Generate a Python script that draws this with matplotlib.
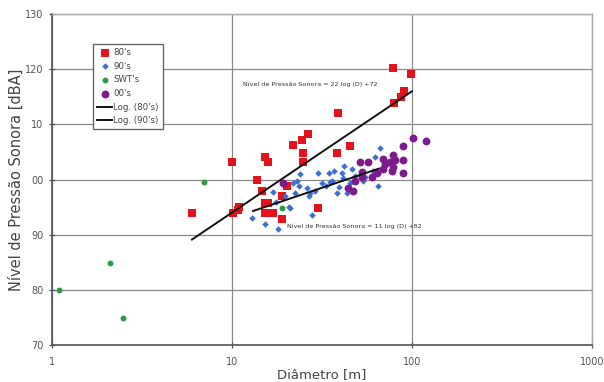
import matplotlib
matplotlib.use("Agg")
import matplotlib.pyplot as plt
import numpy as np
from matplotlib.ticker import FixedLocator, NullLocator

# ---- data ----
d80 = [6.0, 10.0, 10.1, 10.8, 11.0, 13.8, 14.7, 15.3, 15.8, 15.3, 15.8, 15.3, 16.9,
       18.9, 18.9, 20.2, 21.8, 24.5, 24.8, 24.8, 26.4, 30.0, 38.3, 38.7, 45.0,
       78.4, 79.6, 86.7, 90.0, 98.5]
l80 = [94.0, 103.1, 94.0, 94.4, 95.0, 100.0, 98.0, 104.0, 103.1, 95.8, 95.8, 94.0, 94.0,
       97.1, 92.9, 98.9, 106.2, 107.1, 104.9, 103.1, 108.2, 94.9, 104.9, 112.0, 106.0,
       120.2, 113.8, 114.9, 116.0, 119.1]

d90 = [13.0, 15.2, 18.0, 16.9, 19.7, 19.2, 20.7, 21.0, 21.8, 23.0, 23.5, 26.0, 27.1,
       26.7, 27.8, 28.9, 30.0, 31.6, 33.5, 34.5, 35.0, 36.0, 38.3, 39.5, 40.8, 41.5,
       43.5, 45.0, 46.4, 48.1, 53.4, 55.0, 60.7, 62.4, 64.5, 66.4, 68.9, 24.0, 17.5,
       22.5, 37.0, 42.0]
l90 = [93.0, 92.0, 91.1, 97.8, 97.1, 99.3, 95.1, 94.9, 99.3, 99.8, 98.8, 98.4, 97.6,
       97.1, 93.6, 98.0, 101.1, 99.3, 98.9, 101.1, 99.5, 99.8, 97.6, 98.6, 101.1, 100.2,
       97.6, 99.3, 102.0, 100.7, 99.8, 100.5, 101.6, 104.0, 98.9, 105.8, 102.2, 101.0, 96.0,
       97.5, 101.5, 102.5]

dswt = [1.09, 2.1, 2.48, 7.0, 18.9]
lswt = [80.0, 84.9, 74.9, 99.5, 94.9]

d00 = [19.2, 44.2, 46.9, 48.1, 51.4, 52.6, 52.6, 56.9, 60.0, 63.7, 68.9, 68.9, 70.7,
       75.5, 77.5, 78.5, 78.5, 80.6, 89.3, 89.3, 89.3, 102.0, 119.3]
l00 = [99.3, 98.5, 98.0, 99.8, 103.1, 101.3, 100.4, 103.1, 100.4, 101.1, 103.8, 102.0, 102.9,
       103.1, 101.5, 104.4, 102.2, 103.5, 106.0, 103.5, 101.1, 107.6, 106.9]

# trend lines: L = a*log10(D) + b over [dmin, dmax]
fit80 = {"a": 22, "b": 72, "range": [6.0, 100.0]}
fit90 = {"a": 11, "b": 82, "range": [13.1, 65.6]}

series_labels = ["80's", "90's", "SWT's", "00's", "Log. (80's)", "Log. (90's)"]
xticks = [1, 10, 100, 1000]
xticklabels = ["1", "10", "100", "1000"]
yticks = [70, 80, 90, 100, 110, 120, 130]
yticklabels = ["70", "80", "90", "00", "10", "120", "130"]

eq80 = "Nível de Pressão Sonora = 22 log (D) +72"
eq90 = "Nível de Pressão Sonora = 11 log (D) +82"

# ---- figure ----
fig = plt.figure(figsize=(6.04, 3.82), dpi=100)
ax = fig.add_axes([0.086, 0.097, 0.894, 0.866])

gcol = "#8a8a8a"
ax.set_xscale("log")
ax.set_xlim(1, 1000)
ax.set_ylim(70, 130)
ax.xaxis.set_major_locator(FixedLocator(xticks))
ax.xaxis.set_minor_locator(NullLocator())
ax.set_xticklabels(xticklabels)
ax.set_yticks(yticks)
ax.set_yticklabels(yticklabels)
ax.grid(True, color=gcol, linewidth=0.9)
ax.set_axisbelow(True)
for s in ["top", "right"]:
    ax.spines[s].set_color("#aaaaaa")
    ax.spines[s].set_linewidth(1.0)
for s in ["left", "bottom"]:
    ax.spines[s].set_color("#555555")
    ax.spines[s].set_linewidth(1.2)
ax.tick_params(axis="both", direction="inout", length=5, width=0.9, color="#555555",
               labelsize=7, labelcolor="#555555")
ax.tick_params(axis="x", pad=6)

ax.scatter(d80, l80, marker="s", s=28, color="#e3121b", label=series_labels[0], zorder=3, linewidths=0)
ax.scatter(d90, l90, marker="D", s=11, color="#3b6fd6", label=series_labels[1], zorder=3, linewidths=0)
ax.scatter(dswt, lswt, marker="o", s=18, color="#2f9a45", label=series_labels[2], zorder=3, linewidths=0)
ax.scatter(d00, l00, marker="o", s=32, color="#7d1a8e", label=series_labels[3], zorder=3, linewidths=0)

for fit, lab in [(fit80, series_labels[4]), (fit90, series_labels[5])]:
    xs = np.logspace(np.log10(fit["range"][0]), np.log10(fit["range"][1]), 50)
    ax.plot(xs, fit["a"] * np.log10(xs) + fit["b"], color="#111111", lw=1.4, label=lab, zorder=4)

ax.text(11.5, 117.3, eq80, fontsize=4.6, color="#333333", zorder=5, va="center")
ax.text(20.2, 91.6, eq90, fontsize=4.6, color="#333333", zorder=5, va="center")

ax.set_xlabel("Diâmetro [m]", fontsize=9.5, color="#444444", labelpad=1)
ax.set_ylabel("Nível de Pressão Sonora [dBA]", fontsize=10.5, color="#444444", labelpad=1)

leg = ax.legend(loc="upper left", bbox_to_anchor=(0.076, 0.91), fontsize=6.2, frameon=True,
                fancybox=False, edgecolor="#666666", framealpha=1, handlelength=1.8,
                handletextpad=0.12, borderpad=0.45, labelspacing=0.55, borderaxespad=0)
leg.get_frame().set_linewidth(1.0)
for t in leg.get_texts():
    t.set_color("#444444")

fig.savefig("out.png", dpi=100)
